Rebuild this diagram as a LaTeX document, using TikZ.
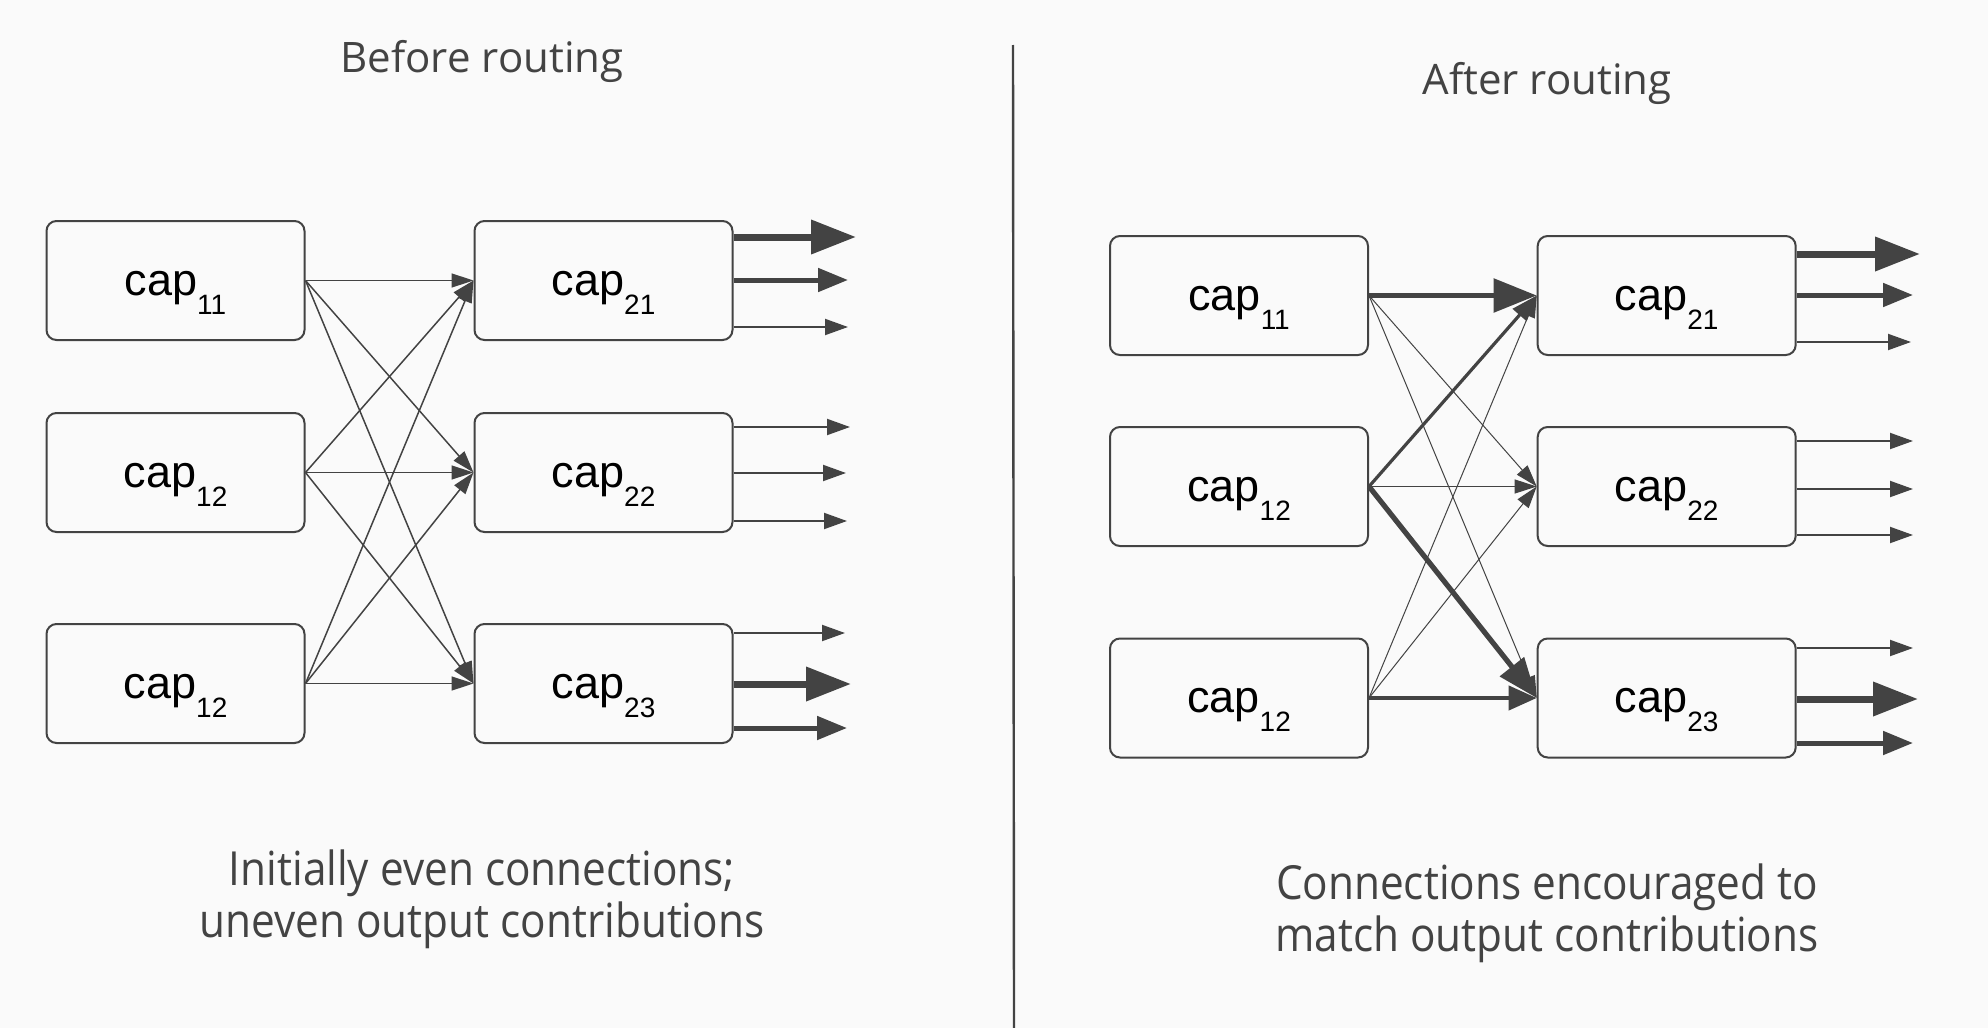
\documentclass[tikz,border=0pt]{standalone}
\usepackage{fontspec}
\setmainfont{Open Sans}
\newfontfamily\capfont[FakeStretch=0.9]{Open Sans}
\newfontfamily\boxfont{Liberation Sans}
\usetikzlibrary{arrows.meta}

\definecolor{bg}{RGB}{250,250,250}
\definecolor{ink}{HTML}{434343}
\newcommand{\caplabel}[1]{cap\raisebox{-9.5pt}{\fontsize{14}{14}\selectfont #1}}

\begin{document}
\begin{tikzpicture}[x=0.5pt,y=-0.5pt]
\tikzstyle{every node}=[inner sep=0pt];
\tikzstyle{capbox}=[draw=ink,line width=1pt,rounded corners=5pt,fill=bg,
  minimum width=129pt,minimum height=59.5pt,text height=16pt,text depth=1.5pt,
  font=\boxfont\fontsize{22.5}{22.5}\selectfont];
\tikzstyle{title}=[text=ink,anchor=base,font=\fontsize{21}{24}\selectfont];
\tikzstyle{caption}=[text=ink,anchor=north,align=center,font=\capfont\fontsize{23.5}{26}\selectfont];
\tikzstyle{edge}=[draw=ink,line width=0.75pt,-{Triangle[length=11pt,width=7pt]}];
\tikzstyle{ethin}=[draw=ink,line width=0.5pt,-{Triangle[length=11pt,width=7pt]}];
\tikzstyle{emid}=[draw=ink,line width=1.6pt,-{Triangle[length=13pt,width=9pt]}];
\tikzstyle{ewide}=[draw=ink,line width=2pt,-{Triangle[length=14pt,width=12pt]}];
\tikzstyle{elarge}=[draw=ink,line width=2.6pt,-{Triangle[length=20pt,width=15pt]}];
\tikzstyle{ebig}=[draw=ink,line width=2.7pt,-{Triangle[length=21.5pt,width=16.5pt]}];
\tikzstyle{outthin}=[draw=ink,line width=1pt,-{Triangle[length=11.5pt,width=8pt]}];
\tikzstyle{outmed}=[draw=ink,line width=2.5pt,-{Triangle[length=15pt,width=11.5pt]}];
\tikzstyle{outthick}=[draw=ink,line width=3.5pt,-{Triangle[length=22.5pt,width=16.5pt]}];

\fill[bg] (0,0) rectangle (1988,1028);
\useasboundingbox (0,0) rectangle (1988,1028);

% before routing
\node [title] (tl) at (482,72) {Before routing};
\node [capbox] (l11) at (175.5,280.5) {\caplabel{11}};
\node [capbox] (l12) at (175.5,472.5) {\caplabel{12}};
\node [capbox] (l13) at (175.5,683.5) {\caplabel{12}};
\node [capbox] (l21) at (603.5,280.5) {\caplabel{21}};
\node [capbox] (l22) at (603.5,472.5) {\caplabel{22}};
\node [capbox] (l23) at (603.5,683.5) {\caplabel{23}};
\foreach \i in {1,2,3}
  \foreach \j in {1,2,3}
    \draw [edge] (l1\i.east) -- (l2\j.west);

\coordinate (l21a) at (856,237);
\coordinate (l21b) at (848,280);
\coordinate (l21c) at (848,327);
\coordinate (l22a) at (850,427);
\coordinate (l22b) at (846,473);
\coordinate (l22c) at (847,521);
\coordinate (l23a) at (845,633);
\coordinate (l23b) at (851,684);
\coordinate (l23c) at (847,728);
\draw [outthick] (l21.east |- l21a) -- (l21a);
\draw [outmed] (l21.east |- l21b) -- (l21b);
\draw [outthin] (l21.east |- l21c) -- (l21c);
\draw [outthin] (l22.east |- l22a) -- (l22a);
\draw [outthin] (l22.east |- l22b) -- (l22b);
\draw [outthin] (l22.east |- l22c) -- (l22c);
\draw [outthin] (l23.east |- l23a) -- (l23a);
\draw [outthick] (l23.east |- l23b) -- (l23b);
\draw [outmed] (l23.east |- l23c) -- (l23c);

\node [caption] (cl) at (482,849) {Initially even connections;\\uneven output contributions};

% divider
\coordinate (dtop) at (1013,45);
\coordinate (dbot) at (1014,1028);
\draw [ink,line width=1.2pt] (dtop) -- (dbot);

% after routing
\node [title] (tr) at (1547,94) {After routing};
\node [capbox] (r11) at (1239,295.5) {\caplabel{11}};
\node [capbox] (r12) at (1239,486.5) {\caplabel{12}};
\node [capbox] (r13) at (1239,698) {\caplabel{12}};
\node [capbox] (r21) at (1666.7,295.5) {\caplabel{21}};
\node [capbox] (r22) at (1666.7,486.5) {\caplabel{22}};
\node [capbox] (r23) at (1666.7,698) {\caplabel{23}};
\draw [ebig] (r11.east) -- (r21.west);
\draw [ethin] (r11.east) -- (r22.west);
\draw [ethin] (r11.east) -- (r23.west);
\draw [emid] (r12.east) -- (r21.west);
\draw [ethin] (r12.east) -- (r22.west);
\draw [elarge] (r12.east) -- (r23.west);
\draw [ethin] (r13.east) -- (r21.west);
\draw [ethin] (r13.east) -- (r22.west);
\draw [ewide] (r13.east) -- (r23.west);

\coordinate (r21a) at (1920,254);
\coordinate (r21b) at (1913,295);
\coordinate (r21c) at (1911,342);
\coordinate (r22a) at (1913,441);
\coordinate (r22b) at (1913,489);
\coordinate (r22c) at (1913,535);
\coordinate (r23a) at (1913,648);
\coordinate (r23b) at (1918,699);
\coordinate (r23c) at (1913,743);
\draw [outthick] (r21.east |- r21a) -- (r21a);
\draw [outmed] (r21.east |- r21b) -- (r21b);
\draw [outthin] (r21.east |- r21c) -- (r21c);
\draw [outthin] (r22.east |- r22a) -- (r22a);
\draw [outthin] (r22.east |- r22b) -- (r22b);
\draw [outthin] (r22.east |- r22c) -- (r22c);
\draw [outthin] (r23.east |- r23a) -- (r23a);
\draw [outthick] (r23.east |- r23b) -- (r23b);
\draw [outmed] (r23.east |- r23c) -- (r23c);

\node [caption] (cr) at (1547,863) {Connections encouraged to\\match output contributions};
\end{tikzpicture}
\end{document}
